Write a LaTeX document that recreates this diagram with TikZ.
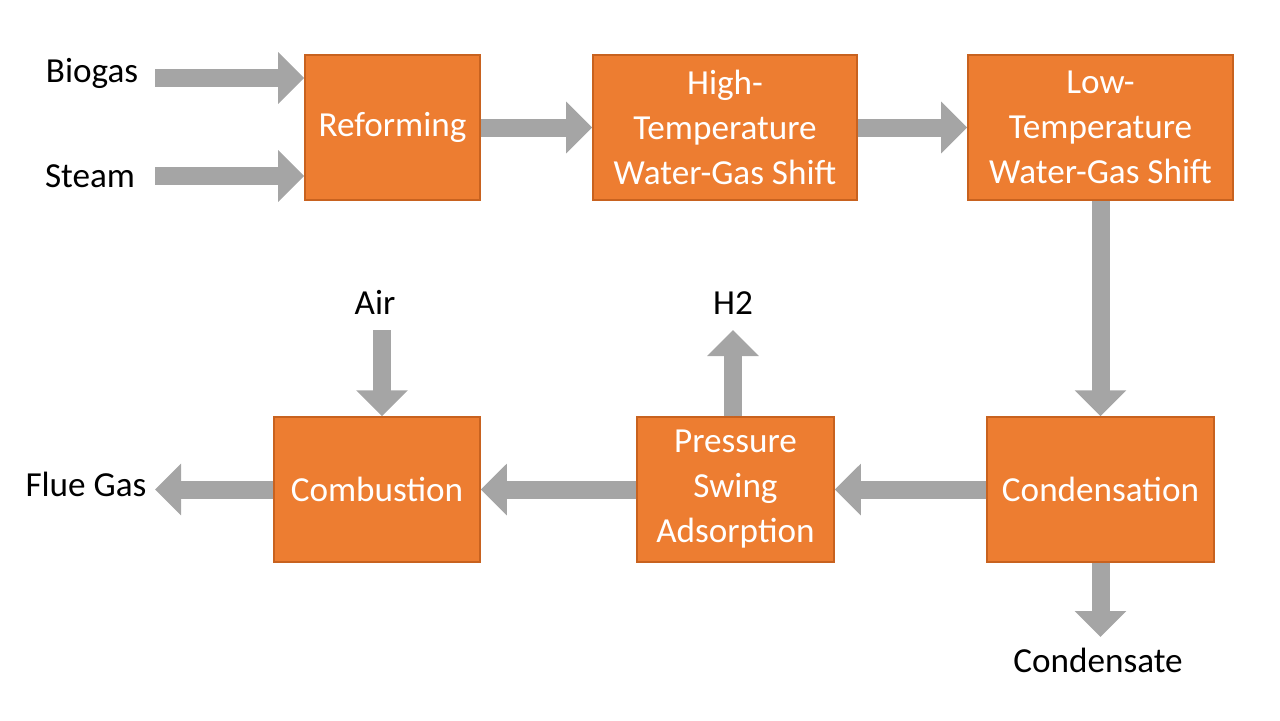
\documentclass[tikz,border=0pt]{standalone}
\usepackage{fontspec}
\setmainfont{Carlito}
\usetikzlibrary{arrows.meta}
\definecolor{boxorange}{HTML}{ED7D31}
\definecolor{boxedge}{HTML}{C8621F}
\definecolor{flowgray}{HTML}{A5A5A5}
\tikzset{%
  >={Triangle[width=0.5cm,length=0.26cm]},
  % Specifications for style of nodes:
         unit/.style = {rectangle, draw=boxedge, fill=boxorange, text=white,
                        minimum height=1.45cm, align=center,
                        font=\fontsize{10}{12.8}\selectfont},
        label/.style = {font=\fontsize{10}{12.8}\selectfont, text=black},
         flow/.style = {->, draw=flowgray, fill=flowgray, line width=0.18cm},
}
\begin{document}
\begin{tikzpicture}[x=0.01cm, y=-0.01cm]
  \useasboundingbox (0,0) rectangle (1280,720);
  % Specification of nodes (position, etc.)
  \node (reform)  [unit, minimum width=1.75cm] at (392.5,127.5) {Reforming};
  \node (htshift) [unit, minimum width=2.64cm] at (725,127.5) {High-\\Temperature\\Water-Gas Shift};
  \node (ltshift) [unit, minimum width=2.65cm] at (1100.5,127.5) {Low-\\Temperature\\Water-Gas Shift};
  \node (condens) [unit, minimum width=2.27cm] at (1100.5,489.5) {Condensation};
  \node (psa)     [unit, minimum width=1.97cm] at (735.5,489.5) {Pressure\\Swing\\Adsorption};
  \node (combust) [unit, minimum width=2.06cm] at (377,489.5) {Combustion};

  \node (biogas)  [label] at (92,73) {Biogas};
  \node (steam)   [label] at (90,176) {Steam};
  \node (flue)    [label] at (86,484) {Flue Gas};
  \node (air)     [label] at (375,302) {Air};
  \node (htwo)    [label] at (733,303) {H2};
  \node (conds)   [label] at (1098,660) {Condensate};

  \coordinate (bio in)   at (155,78);
  \coordinate (steam in) at (155,176);
  \coordinate (flue out) at (155,489.5);
  \coordinate (air in)   at (382,330);
  \coordinate (htwo out) at (733,330);
  \coordinate (cond out) at (1100.5,637);

  \draw[flow] (bio in) -- (bio in -| reform.west);
  \draw[flow] (steam in) -- (steam in -| reform.west);
  \draw[flow] (reform) -- (htshift);
  \draw[flow] (htshift) -- (ltshift);
  \draw[flow] (ltshift) -- (condens);
  \draw[flow] (condens) -- (psa);
  \draw[flow] (psa) -- (combust);
  \draw[flow] (combust) -- (flue out);
  \draw[flow] (air in) -- (air in |- combust.north);
  \draw[flow] (htwo out |- psa.north) -- (htwo out);
  \draw[flow] (condens) -- (cond out);
\end{tikzpicture}
\end{document}
